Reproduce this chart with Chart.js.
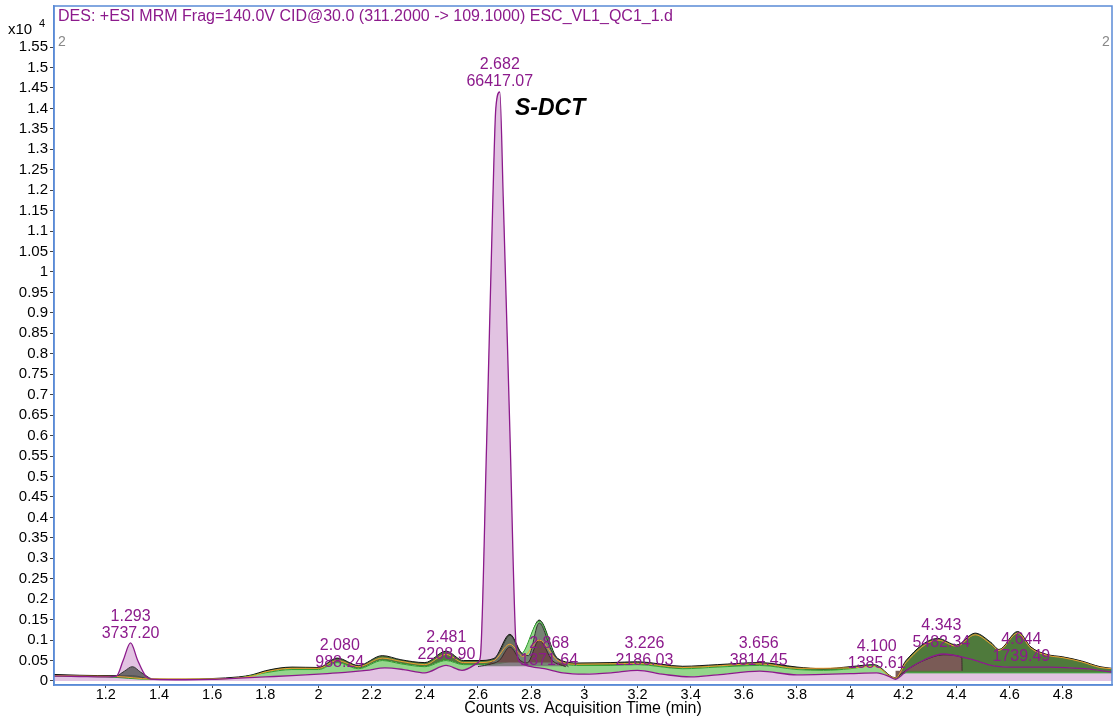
<!DOCTYPE html>
<html><head><meta charset="utf-8">
<script src="https://cdn.jsdelivr.net/npm/chart.js@4.4.1/dist/chart.umd.min.js"></script>
<style>html,body{margin:0;padding:0;background:#fff;}canvas{display:block;}</style>
</head><body>
<canvas id="c" width="1116" height="720"></canvas>
<script>
// ---- data ----
const xTickLabels = ['1.2','1.4','1.6','1.8','2','2.2','2.4','2.6','2.8','3','3.2','3.4','3.6','3.8','4','4.2','4.4','4.6','4.8'];
const yTickLabels = ['0','0.05','0.1','0.15','0.2','0.25','0.3','0.35','0.4','0.45','0.5','0.55','0.6','0.65','0.7','0.75','0.8','0.85','0.9','0.95','1','1.05','1.1','1.15','1.2','1.25','1.3','1.35','1.4','1.45','1.5','1.55'];

const purpleT = [1.005,1.1,1.2,1.24,1.265,1.293,1.32,1.35,1.38,1.5,1.6,1.7,1.8,1.9,2.0,2.1,2.18,2.25,2.32,2.4,2.48,2.54,2.6,2.609,2.632,2.656,2.667,2.682,2.695,2.72,2.744,2.76,2.8,2.85,2.92,3.0,3.1,3.2,3.3,3.4,3.5,3.66,3.8,3.9,4.0,4.1,4.15,4.17,4.22,4.28,4.35,4.45,4.54,4.62,4.75,4.88,4.985];
const purpleY = [0.012,0.011,0.010,0.012,0.05,0.093,0.05,0.012,0.004,0.003,0.004,0.007,0.010,0.013,0.017,0.021,0.026,0.032,0.028,0.020,0.038,0.026,0.045,0.06,0.57,1.18,1.40,1.44,1.18,0.61,0.08,0.045,0.035,0.030,0.020,0.017,0.020,0.026,0.016,0.010,0.015,0.024,0.015,0.016,0.018,0.020,0.010,0.004,0.030,0.052,0.066,0.054,0.037,0.034,0.034,0.030,0.022];

const envT = [1.005,1.1,1.24,1.3,1.37,1.5,1.6,1.7,1.75,1.8,1.9,2.0,2.07,2.15,2.24,2.31,2.4,2.48,2.545,2.6,2.66,2.72,2.77,2.83,2.9,2.98,3.1,3.2,3.37,3.5,3.66,3.8,3.9,4.0,4.09,4.17,4.21,4.33,4.4,4.47,4.53,4.56,4.63,4.68,4.74,4.8,4.87,4.94,4.985];
const envY = [0.016,0.014,0.013,0.013,0.005,0.004,0.006,0.010,0.015,0.025,0.034,0.033,0.056,0.038,0.062,0.052,0.045,0.073,0.050,0.050,0.055,0.114,0.066,0.149,0.055,0.044,0.045,0.047,0.036,0.040,0.045,0.034,0.030,0.035,0.040,0.008,0.050,0.104,0.088,0.117,0.094,0.077,0.121,0.083,0.065,0.059,0.049,0.035,0.031];

const greenT = [1.005,1.2,1.37,1.6,1.7,1.8,1.9,2.0,2.07,2.15,2.24,2.31,2.4,2.48,2.545,2.6,2.7,2.77,2.83,2.9,2.98,3.1,3.2,3.37,3.5,3.66,3.8,3.9,4.0,4.09,4.17,4.21,4.985];
const greenY = [0.012,0.010,0.004,0.005,0.008,0.020,0.028,0.028,0.045,0.030,0.050,0.042,0.035,0.050,0.040,0.040,0.045,0.070,0.146,0.050,0.038,0.038,0.040,0.030,0.034,0.038,0.028,0.026,0.030,0.038,0.006,0.020,0.020];

const grayEarlyT = [1.24,1.27,1.3,1.33,1.37];
const grayEarlyY = [0.011,0.024,0.035,0.022,0.005];
const grayPeakT = [2.6,2.65,2.68,2.72,2.76,2.79,2.83,2.88,2.94];
const grayPeakY = [0.035,0.045,0.07,0.112,0.07,0.062,0.142,0.07,0.035];

const brownPeakT = [2.64,2.68,2.72,2.76,2.785,2.83,2.88,2.93];
const brownPeakY = [0.04,0.05,0.083,0.05,0.044,0.100,0.05,0.035];
const brownLateT = [4.17,4.22,4.28,4.35,4.42,4.421];
const brownLateY = [0.006,0.03,0.051,0.064,0.058,0.025];

const orangeT = [1.005,1.1,1.24,1.37,1.6,1.75,1.8,1.9,2.0,2.07,2.15,2.24,2.31,2.4,2.48,2.545,2.6,2.66,2.72,2.77,2.83,2.9,2.98,3.2,3.37,3.66,3.8,4.0,4.09,4.17,4.21,4.33,4.4,4.47,4.53,4.56,4.63,4.68,4.74,4.8,4.87,4.94,4.985];
const orangeY = [0.013,0.012,0.011,0.005,0.005,0.012,0.022,0.031,0.031,0.050,0.035,0.056,0.048,0.040,0.065,0.045,0.045,0.050,0.090,0.060,0.100,0.050,0.041,0.043,0.033,0.042,0.031,0.032,0.036,0.007,0.045,0.100,0.085,0.113,0.090,0.075,0.117,0.080,0.063,0.057,0.047,0.033,0.030];

const peakTimes = [1.293,2.080,2.481,2.682,2.868,3.226,3.656,4.100,4.343,4.644];
const peakAreas = ['3737.20','988.24','2208.90','66417.07','1371.64','2186.03','3814.45','1385.61','5482.34','1739.49'];
// label anchor heights (config, in axis units)
const peakLabelLevel = [0.117,0.046,0.064,1.465,0.051,0.051,0.049,0.042,0.093,0.059];

// ---- helpers ----
const pts = (T, Y) => T.map((t, i) => ({x: t, y: Y[i]}));
const FONT = "'Liberation Sans', Arial, sans-serif";
const PURPLE = '#8c1a8c';
const TRANSP = 'rgba(0,0,0,0)';

const decor = {
  id: 'decor',
  afterDatasetsDraw(chart) {
    const {ctx, scales: {x, y}} = chart;
    ctx.save();
    ctx.fillStyle = PURPLE;
    ctx.font = '16px ' + FONT;
    ctx.textAlign = 'center';
    ctx.textBaseline = 'middle';
    peakTimes.forEach((t, i) => {
      const px = x.getPixelForValue(t);
      const py = y.getPixelForValue(peakLabelLevel[i]);
      ctx.fillText(t.toFixed(3), px, py - 17);
      ctx.fillText(peakAreas[i], px, py);
    });
    ctx.fillStyle = '#000';
    ctx.font = 'italic bold 23px ' + FONT;
    ctx.textAlign = 'left';
    ctx.fillText('S-DCT', 515, 109);
    ctx.restore();
  },
  afterDraw(chart) {
    const {ctx, chartArea: a} = chart;
    ctx.save();
    ctx.strokeStyle = '#5a8ad6';
    ctx.lineWidth = 1.5;
    ctx.strokeRect(a.left, a.top, a.right - a.left, a.bottom - a.top);
    ctx.fillStyle = PURPLE;
    ctx.font = '16px ' + FONT;
    ctx.textAlign = 'left';
    ctx.textBaseline = 'middle';
    ctx.fillText('DES: +ESI MRM Frag=140.0V CID@30.0 (311.2000 -> 109.1000) ESC_VL1_QC1_1.d', 58, 17);
    ctx.fillStyle = '#000';
    ctx.font = '15px ' + FONT;
    ctx.fillText('x10', 8, 30);
    ctx.font = '11px ' + FONT;
    ctx.fillText('4', 39, 24);
    ctx.fillStyle = '#888';
    ctx.font = '14px ' + FONT;
    ctx.fillText('2', 58, 42);
    ctx.fillText('2', 1102, 42);
    ctx.fillStyle = '#000';
    ctx.font = '16px ' + FONT;
    ctx.textAlign = 'center';
    ctx.fillText('Counts vs. Acquisition Time (min)', 583, 709);
    ctx.restore();
  }
};

const base = {pointRadius: 0, pointHoverRadius: 0, cubicInterpolationMode: 'monotone', spanGaps: false};

new Chart(document.getElementById('c'), {
  type: 'line',
  data: {
    datasets: [
      Object.assign({}, base, {label: 'purpleFill', data: pts(purpleT, purpleY), borderWidth: 0, borderColor: TRANSP, backgroundColor: '#e2c3e2', fill: 'origin', order: 8}),
      Object.assign({}, base, {label: 'envelope', data: pts(envT, envY), borderWidth: 1, borderColor: '#111', fill: {target: 2, above: '#4f7a3c', below: TRANSP}, order: 7}),
      Object.assign({}, base, {label: 'green', data: pts(greenT, greenY), borderWidth: 1, borderColor: '#2e9e2e', fill: {target: 0, above: '#94d68b', below: TRANSP}, order: 6}),
      Object.assign({}, base, {label: 'grayEarly', data: pts(grayEarlyT, grayEarlyY), borderWidth: 1, borderColor: '#333', backgroundColor: 'rgba(90,90,90,0.85)', fill: {value: 0.008}, order: 5}),
      Object.assign({}, base, {label: 'grayPeak', data: pts(grayPeakT, grayPeakY), borderWidth: 1, borderColor: '#333', backgroundColor: 'rgba(110,110,110,0.8)', fill: {value: 0.036}, order: 4}),
      Object.assign({}, base, {label: 'brownPeak', data: pts(brownPeakT, brownPeakY), borderWidth: 1, borderColor: '#3a2a2a', backgroundColor: '#6e4c4a', fill: {value: 0.045}, order: 3}),
      Object.assign({}, base, {label: 'brownLate', data: pts(brownLateT, brownLateY), borderWidth: 1, borderColor: '#3a2a2a', backgroundColor: '#7a5b56', fill: {value: 0.025}, order: 2}),
      Object.assign({}, base, {label: 'orange', data: pts(orangeT, orangeY), borderWidth: 1, borderColor: '#f0a030', fill: false, order: 1}),
      Object.assign({}, base, {label: 'purpleLine', data: pts(purpleT, purpleY), borderWidth: 1.3, borderColor: PURPLE, fill: false, order: 0})
    ]
  },
  options: {
    responsive: false,
    animation: false,
    devicePixelRatio: 1,
    layout: {padding: {top: 6, right: 4, left: 0, bottom: 0}},
    plugins: {legend: {display: false}, tooltip: {enabled: false}},
    scales: {
      x: {
        type: 'linear', min: 1.005, max: 4.985,
        afterFit: s => { s.height = 35; s.paddingLeft = 0; s.paddingRight = 0; },
        afterBuildTicks: s => { s.ticks = xTickLabels.map(v => ({value: parseFloat(v)})); },
        ticks: {font: {family: FONT, size: 14.5}, color: '#000', padding: -2, maxRotation: 0, autoSkip: false,
          callback: v => xTickLabels.find(l => Math.abs(parseFloat(l) - v) < 1e-9) || ''},
        grid: {display: true, drawOnChartArea: false, drawTicks: true, tickLength: 3, color: '#444'},
        border: {display: true, color: '#5a8ad6', width: 1.5}
      },
      y: {
        type: 'linear', min: -0.0098, max: 1.6503,
        afterFit: s => { s.width = 54; s.paddingTop = 0; s.paddingBottom = 0; },
        afterBuildTicks: s => { s.ticks = yTickLabels.map(v => ({value: parseFloat(v)})); },
        ticks: {font: {family: FONT, size: 15}, color: '#000', padding: 2, autoSkip: false,
          callback: v => yTickLabels.find(l => Math.abs(parseFloat(l) - v) < 1e-9) || ''},
        grid: {display: true, drawOnChartArea: false, drawTicks: true, tickLength: 4, color: '#444'},
        border: {display: true, color: '#5a8ad6', width: 1.5}
      }
    }
  },
  plugins: [decor]
});
</script>
</body></html>
